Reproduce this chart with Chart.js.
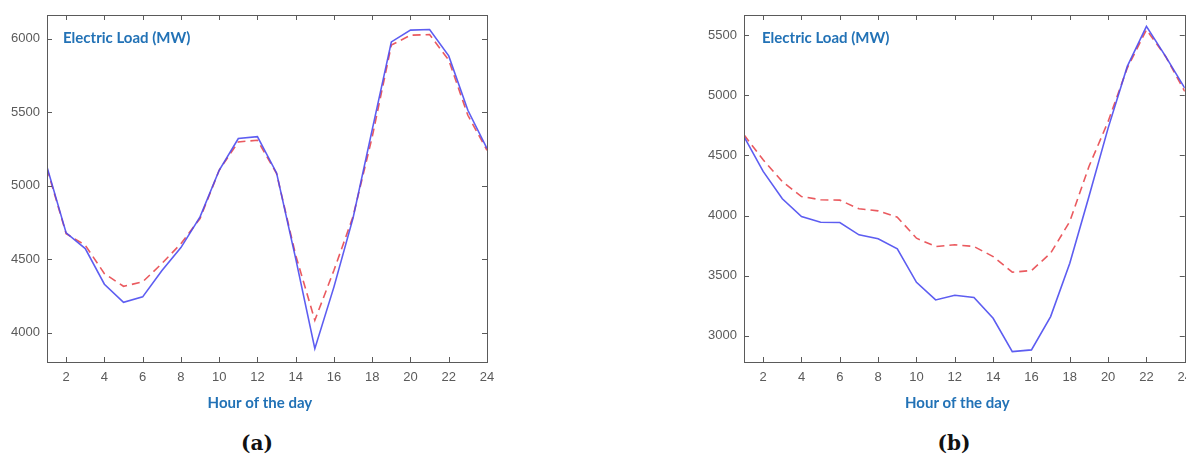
<!DOCTYPE html>
<html>
<head>
<meta charset="utf-8">
<script src="https://cdn.jsdelivr.net/npm/chart.js@4"></script>
<style>
  html, body { margin: 0; padding: 0; background: #fff; overflow: hidden; }
  body { width: 1186px; height: 459px; position: relative; }
  canvas { position: absolute; top: 0; }
  .inlabel { position: absolute; font: 700 15px Lato, sans-serif; color: #2272b6; white-space: nowrap; }
  .caption { position: absolute; font: 700 20px "DejaVu Serif", serif; color: #111; transform: translate(-50%, -50%); }
</style>
</head>
<body>
<canvas id="chartA" width="520" height="420" style="left:0"></canvas>
<canvas id="chartB" width="500" height="420" style="left:700px"></canvas>
<div class="inlabel" style="left:63px; top:28px">Electric Load (MW)</div>
<div class="inlabel" style="left:762px; top:28px">Electric Load (MW)</div>
<div class="caption" style="left:257px; top:443px">(<span>a</span>)</div>
<div class="caption" style="left:954px; top:443px">(<span>b</span>)</div>
<script>
// hours of the day
const hours = [1,2,3,4,5,6,7,8,9,10,11,12,13,14,15,16,17,18,19,20,21,22,23,24];
const xTicks = [2,4,6,8,10,12,14,16,18,20,22,24];

// (a)
const actualA = [5127,4678,4571,4329,4206,4243,4420,4578,4787,5104,5320,5333,5086,4503,3891,4311,4780,5380,5977,6057,6061,5882,5512,5252];
const forecastA = [5116,4673,4594,4401,4315,4345,4469,4605,4776,5104,5297,5308,5082,4526,4084,4424,4790,5331,5955,6023,6027,5853,5478,5240];
const yTicksA = [4000,4500,5000,5500,6000];

// (b)
const actualB = [4658,4367,4139,3992,3944,3942,3839,3806,3722,3444,3297,3336,3317,3144,2867,2881,3158,3603,4158,4728,5242,5575,5325,5061];
const forecastB = [4672,4464,4283,4158,4131,4128,4056,4039,3986,3811,3742,3756,3742,3658,3528,3542,3686,3950,4408,4783,5228,5547,5325,5033];
const yTicksB = [3000,3500,4000,4500,5000,5500];

const axisColor = '#5a5a5a';
const tickFont = { family: "'Liberation Sans', Arial, sans-serif", size: 13 };

// MATLAB-like box with inward ticks on all four sides
const boxTicks = {
  id: 'boxTicks',
  afterDraw(chart) {
    const { ctx, chartArea: a, scales } = chart;
    ctx.save();
    ctx.strokeStyle = axisColor;
    ctx.lineWidth = 1;
    ctx.beginPath();
    scales.x.ticks.forEach(t => {
      const px = Math.round(scales.x.getPixelForValue(t.value)) + 0.5;
      ctx.moveTo(px, a.bottom); ctx.lineTo(px, a.bottom - 5);
      ctx.moveTo(px, a.top); ctx.lineTo(px, a.top + 5);
    });
    scales.y.ticks.forEach(t => {
      const py = Math.round(scales.y.getPixelForValue(t.value)) + 0.5;
      ctx.moveTo(a.left, py); ctx.lineTo(a.left + 5, py);
      ctx.moveTo(a.right, py); ctx.lineTo(a.right - 5, py);
    });
    ctx.stroke();
    ctx.strokeRect(Math.round(a.left) + 0.5, Math.round(a.top) + 0.5,
      Math.round(a.right - a.left), Math.round(a.bottom - a.top));
    ctx.restore();
  }
};

function makeChart(id, actual, forecast, yTicks, yMin, yMax, yWidth, padRight) {
  const ctx = document.getElementById(id).getContext('2d');
  return new Chart(ctx, {
    type: 'line',
    data: {
      datasets: [
        {
          label: 'Actual',
          data: hours.map((h, i) => ({ x: h, y: actual[i] })),
          borderColor: 'rgba(75, 75, 240, 0.9)',
          borderWidth: 1.6,
          pointRadius: 0,
          tension: 0
        },
        {
          label: 'Forecast',
          data: hours.map((h, i) => ({ x: h, y: forecast[i] })),
          borderColor: 'rgba(232, 72, 78, 0.9)',
          borderWidth: 1.6,
          borderDash: [8, 5],
          pointRadius: 0,
          tension: 0
        }
      ]
    },
    options: {
      responsive: false,
      animation: false,
      layout: { padding: { top: 15, right: padRight, left: 0, bottom: 0 } },
      scales: {
        x: {
          type: 'linear',
          min: 1,
          max: 24,
          grid: { display: false, drawTicks: false },
          border: { display: false },
          afterBuildTicks: (s) => { s.ticks = xTicks.map(v => ({ value: v })); },
          afterFit: (s) => { s.height = 58; },
          ticks: { color: axisColor, font: tickFont, padding: 8, maxRotation: 0, autoSkip: false,
                   callback: (v) => String(v) },
          title: {
            display: true,
            text: 'Hour of the day\u00a0\u00a0\u00a0\u00a0',
            color: '#2272b6',
            font: { family: 'Lato, sans-serif', size: 15, weight: '700' },
            padding: { top: 0, bottom: 8 }
          }
        },
        y: {
          min: yMin,
          max: yMax,
          grid: { display: false, drawTicks: false },
          border: { display: false },
          afterBuildTicks: (s) => { s.ticks = yTicks.map(v => ({ value: v })); },
          afterFit: (s) => { s.width = yWidth; },
          ticks: { color: axisColor, font: tickFont, padding: 7, callback: (v) => String(v) }
        }
      },
      plugins: {
        legend: { display: false },
        tooltip: { enabled: false }
      }
    },
    plugins: [boxTicks]
  });
}

makeChart('chartA', actualA, forecastA, yTicksA, 3800, 6160, 47, 33);
makeChart('chartB', actualB, forecastB, yTicksB, 2780, 5670, 44, 14);
</script>
</body>
</html>
